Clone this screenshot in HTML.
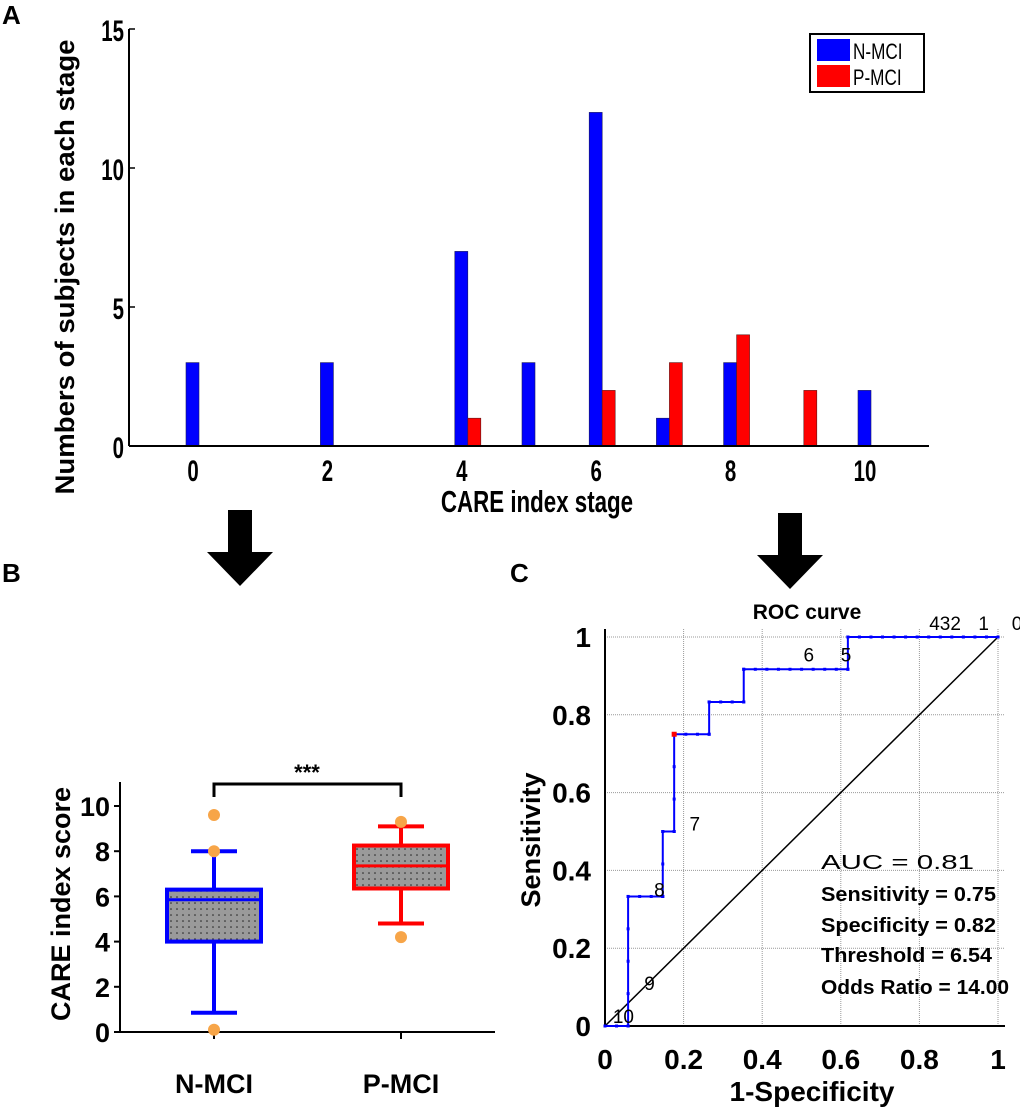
<!DOCTYPE html>
<html><head><meta charset="utf-8">
<style>
html,body{margin:0;padding:0;background:#fff;}
svg{display:block;}
text{font-family:"Liberation Sans",Arial,sans-serif;}
</style></head>
<body>
<svg id="fig" width="1020" height="1107" viewBox="0 0 1020 1107" xmlns="http://www.w3.org/2000/svg">
<defs>
<pattern id="dots" width="6" height="6" patternUnits="userSpaceOnUse"><rect width="6" height="6" fill="#9a9a9a"/><circle cx="3" cy="3" r="0.8" fill="#222"/></pattern>
</defs>
<text x="2" y="24" font-size="26" font-weight="bold">A</text>
<text x="2" y="582" font-size="26" font-weight="bold">B</text>
<text x="510" y="582" font-size="26" font-weight="bold">C</text>

<g id="panelA"></g>
<g><polygon points="228,510 252,510 252,552 273,552 240,586 207,552 228,552" fill="#000"/></g>
<g><polygon points="778,513 802,513 802,555 823,555 790,589 757,555 778,555" fill="#000"/></g>
<g id="panelB"></g>
<g id="panelC"></g>
</svg>
<script>
const NS="http://www.w3.org/2000/svg";
function mk(p,t,a,txt){const e=document.createElementNS(NS,t);for(const k in a)e.setAttribute(k,a[k]);if(txt!==undefined)e.textContent=txt;p.appendChild(e);return e;}

// ---------- Panel A data ----------
const stages=[0,2,4,5,6,7,8,9,10];
const nMci=[3,3,7,3,12,1,3,0,2];
const pMci=[0,0,1,0,2,3,4,2,0];
const aTicksY=[0,5,10,15];
const aTicksX=[0,2,4,6,8,10];

// ---------- Panel B data ----------
const boxGroups=["N-MCI","P-MCI"];
const boxQ1=[4.0,6.35];
const boxMed=[5.85,7.35];
const boxQ3=[6.3,8.25];
const boxWLo=[0.85,4.8];
const boxWHi=[8.0,9.1];
const outN=[9.6,8.0,0.1];
const outP=[9.3,4.2];
const bTicks=[0,2,4,6,8,10];

// ---------- Panel C data ----------
const rocFpr=[0,0.0588,0.0588,0.147,0.147,0.176,0.176,0.265,0.265,0.353,0.353,0.618,0.618,1];
const rocTpr=[0,0,0.333,0.333,0.5,0.5,0.75,0.75,0.833,0.833,0.917,0.917,1,1];
const thrLabels=["10","9","8","7","6","5","432","1","0"];
const thrX=[0.02,0.1,0.125,0.215,0.505,0.6,0.825,0.95,1.035];
const thrY=[0.005,0.09,0.33,0.5,0.935,0.935,1.015,1.015,1.015];
const cTicks=[0,0.2,0.4,0.6,0.8,1];
const optFpr=0.176, optTpr=0.75;

// ===== Panel A =====
(function(){
const g=document.getElementById('panelA');
const x=v=>193+v*67.2, y=v=>446-v*27.8;
for(let i=0;i<stages.length;i++){
  const c=x(stages[i]);
  if(nMci[i]>0){const r=mk(g,'rect',{x:c-7,y:y(nMci[i]),width:13,height:446-y(nMci[i]),fill:'#0000ff',stroke:'#1a1a5a','stroke-width':0.6});
  
  }
  if(pMci[i]>0){const r=mk(g,'rect',{x:c+6,y:y(pMci[i]),width:13,height:446-y(pMci[i]),fill:'#ff0000',stroke:'#5a1a1a','stroke-width':0.6});
  
  }
}
mk(g,'line',{x1:129,y1:446,x2:929,y2:446,stroke:'#000','stroke-width':2});
mk(g,'line',{x1:129,y1:446,x2:129,y2:29,stroke:'#000','stroke-width':2});
aTicksY.forEach(v=>{mk(g,'line',{x1:129,y1:y(v),x2:135,y2:y(v),stroke:'#000','stroke-width':1.5});
 const t=mk(g,'text',{x:0,y:0,'font-size':30,'font-weight':'bold','text-anchor':'end',transform:'translate(124,'+(y(v)+12)+') scale(0.68,1)'},String(v));
 
 });
aTicksX.forEach(v=>{const t=mk(g,'text',{x:0,y:0,'font-size':30,'font-weight':'bold','text-anchor':'middle',transform:'translate('+x(v)+',481) scale(0.68,1)'},String(v));
 
 });
const xl=mk(g,'text',{x:0,y:0,'font-size':31,'font-weight':'bold','text-anchor':'middle',transform:'translate(537,512) scale(0.72,1)'},'CARE index stage');


const yl=mk(g,'text',{x:0,y:0,'font-size':27,'font-weight':'bold','text-anchor':'middle',textLength:455,lengthAdjust:'spacingAndGlyphs',transform:'translate(74,267) rotate(-90)'},'Numbers of subjects in each stage');


const lg=mk(g,'g',{});


mk(lg,'rect',{x:810,y:34,width:114,height:58,fill:'#fff',stroke:'#000','stroke-width':2});
mk(lg,'rect',{x:817,y:39,width:33,height:22,fill:'#0000ff'});
mk(lg,'rect',{x:817,y:65,width:33,height:22,fill:'#ff0000'});
mk(lg,'text',{x:0,y:0,'font-size':22,transform:'translate(853,59) scale(0.78,1)'},'N-MCI');
mk(lg,'text',{x:0,y:0,'font-size':22,transform:'translate(853,85) scale(0.78,1)'},'P-MCI');
})();

// ===== Panel B =====
(function(){
const g=document.getElementById('panelB');
const y=v=>1032-v*22.6; const cx=[214,401]; const colors=['#0000ff','#ff0000'];
mk(g,'line',{x1:120,y1:1032,x2:495,y2:1032,stroke:'#000','stroke-width':2});
mk(g,'line',{x1:120,y1:1032,x2:120,y2:782,stroke:'#000','stroke-width':2});
bTicks.forEach(v=>{mk(g,'line',{x1:114,y1:y(v),x2:120,y2:y(v),stroke:'#000','stroke-width':2});
 const t=mk(g,'text',{x:110,y:y(v)+10,'font-size':27,'font-weight':'bold','text-anchor':'end'},String(v));
 
 });
cx.forEach(c=>mk(g,'line',{x1:c,y1:1032,x2:c,y2:1039,stroke:'#000','stroke-width':2}));
for(let i=0;i<2;i++){
  const c=cx[i],col=colors[i];
  const bg=mk(g,'g',{});
  
  
  mk(bg,'line',{x1:c,y1:y(boxWHi[i]),x2:c,y2:y(boxQ3[i]),stroke:col,'stroke-width':4});
  mk(bg,'line',{x1:c,y1:y(boxWLo[i]),x2:c,y2:y(boxQ1[i]),stroke:col,'stroke-width':4});
  mk(bg,'line',{x1:c-23,y1:y(boxWHi[i]),x2:c+23,y2:y(boxWHi[i]),stroke:col,'stroke-width':4});
  mk(bg,'line',{x1:c-23,y1:y(boxWLo[i]),x2:c+23,y2:y(boxWLo[i]),stroke:col,'stroke-width':4});
  mk(bg,'rect',{x:c-47,y:y(boxQ3[i]),width:94,height:y(boxQ1[i])-y(boxQ3[i]),fill:'url(#dots)',stroke:col,'stroke-width':4});
  mk(bg,'line',{x1:c-47,y1:y(boxMed[i]),x2:c+47,y2:y(boxMed[i]),stroke:col,'stroke-width':3});
  const t=mk(g,'text',{x:c,y:1093,'font-size':27,'font-weight':'bold','text-anchor':'middle'},boxGroups[i]);
  
  
}
outN.forEach(v=>{const o=mk(g,'circle',{cx:214,cy:y(v),r:6,fill:'#f7a548'});
 
 });
outP.forEach(v=>{const o=mk(g,'circle',{cx:401,cy:y(v),r:6,fill:'#f7a548'});
 
 });
const br=mk(g,'path',{d:'M214,797 V784 H401 V797',fill:'none',stroke:'#000','stroke-width':3});


const st=mk(g,'text',{x:307,y:780,'font-size':22,'font-weight':'bold','text-anchor':'middle'},'***');


const yl=mk(g,'text',{x:0,y:0,'font-size':27,'font-weight':'bold','text-anchor':'middle',transform:'translate(70,904) rotate(-90)'},'CARE index score');


})();

// ===== Panel C =====
(function(){
const g=document.getElementById('panelC');
const x=v=>605+v*393, y=v=>1026-v*389;
cTicks.forEach(v=>{ if(v>0){
  mk(g,'line',{x1:x(v),y1:1026,x2:x(v),y2:629,stroke:'#999','stroke-width':1,'stroke-dasharray':'1,1'});
  mk(g,'line',{x1:605,y1:y(v),x2:1005,y2:y(v),stroke:'#999','stroke-width':1,'stroke-dasharray':'1,1'});}
 const tx=mk(g,'text',{x:x(v),y:1069,'font-size':28,'font-weight':'bold','text-anchor':'middle'},String(v));
 
 
 const ty=mk(g,'text',{x:591,y:y(v)+10,'font-size':28,'font-weight':'bold','text-anchor':'end'},String(v));
 
 });
mk(g,'line',{x1:605,y1:1026,x2:1005,y2:1026,stroke:'#000','stroke-width':2});
mk(g,'line',{x1:605,y1:1026,x2:605,y2:629,stroke:'#000','stroke-width':2});
const dg=mk(g,'line',{x1:x(0),y1:y(0),x2:x(1),y2:y(1),stroke:'#000','stroke-width':1.5});


let d='';for(let i=0;i<rocFpr.length;i++)d+=(i?'L':'M')+x(rocFpr[i])+','+y(rocTpr[i]);
const rc=mk(g,'path',{d:d,fill:'none',stroke:'#0000ff','stroke-width':2});


for(let i=1;i<rocFpr.length;i++){
  const x0=rocFpr[i-1],x1=rocFpr[i],y0=rocTpr[i-1],y1=rocTpr[i];
  const n=x1!==x0?Math.round((x1-x0)*34):Math.round((y1-y0)*12);
  for(let k=0;k<=n;k++){const fx=x0+(x1-x0)*k/Math.max(n,1),fy=y0+(y1-y0)*k/Math.max(n,1);
    mk(g,'rect',{x:x(fx)-1.5,y:y(fy)-1.5,width:3,height:3,fill:'#0000ff'});}
}
const op=mk(g,'rect',{x:x(optFpr)-2.5,y:y(optTpr)-2.5,width:5,height:5,fill:'#ff0000'});


thrLabels.forEach((s,i)=>{const t=mk(g,'text',{x:x(thrX[i]),y:y(thrY[i])-1,'font-size':19},s);
 
 });
const tt=mk(g,'text',{x:807,y:619,'font-size':21,'font-weight':'bold','text-anchor':'middle'},'ROC curve');


const stats=[['AUC = 0.81',869,'normal',153],['Sensitivity =  0.75',901,'600',175],['Specificity =  0.82',932,'600',175],['Threshold =  6.54',962,'600',171],['Odds Ratio = 14.00',994,'600',188]];
stats.forEach(s=>{const t=mk(g,'text',{x:821,y:s[1],'font-size':20,'font-weight':s[2],textLength:s[3],lengthAdjust:'spacingAndGlyphs'},s[0]);
 t.setAttribute('xml:space','preserve');
 
 });
const xl=mk(g,'text',{x:812,y:1101,'font-size':28,'font-weight':'bold','text-anchor':'middle'},'1-Specificity');


const yl=mk(g,'text',{x:0,y:0,'font-size':27,'font-weight':'bold','text-anchor':'middle',transform:'translate(540,840) rotate(-90)'},'Sensitivity');


})();
</script>
</body></html>
